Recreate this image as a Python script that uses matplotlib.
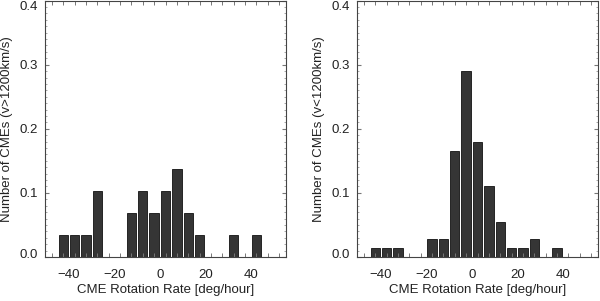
import matplotlib
matplotlib.use("Agg")
import matplotlib.pyplot as plt
from matplotlib.ticker import MultipleLocator, FixedLocator
from matplotlib.transforms import ScaledTranslation

plt.rcParams['font.family'] = ['Liberation Sans', 'DejaVu Sans']

bin_centers = [-47.5, -42.5, -37.5, -32.5, -27.5, -22.5, -17.5, -12.5, -7.5, -2.5,
               2.5, 7.5, 12.5, 17.5, 22.5, 27.5, 32.5, 37.5, 42.5, 47.5, 52.5]
fast_frac = [0, 0.034, 0.034, 0.034, 0.103, 0, 0, 0.069, 0.103, 0.069,
             0.103, 0.138, 0.069, 0.034, 0, 0, 0.034, 0, 0.034, 0, 0]
slow_frac = [0, 0.014, 0.014, 0.014, 0, 0, 0.028, 0.028, 0.166, 0.290,
             0.179, 0.111, 0.055, 0.014, 0.014, 0.028, 0, 0.014, 0, 0, 0]
xticks = [-40, -20, 0, 20, 40]
yticks = [0.0, 0.1, 0.2, 0.3, 0.4]
xlabel = "CME Rotation Rate [deg/hour]"
ylabels = ["Number of CMEs (v>1200km/s)", "Number of CMEs (v<1200km/s)"]

fig = plt.figure(figsize=(6.0, 3.01), dpi=100)
W, H = 600, 301
ax_boxes = [(45, 286), (357, 598)]
top_px, bot_px = 0, 257

for (l, r), vals, ylab in zip(ax_boxes, [fast_frac, slow_frac], ylabels):
    ax = fig.add_axes([l / W, 1 - bot_px / H, (r - l) / W, (bot_px - top_px) / H - 0.002])
    ax.bar(bin_centers, vals, width=4.1, color='#353535', edgecolor='#111111',
           linewidth=0.6, zorder=1)
    ax.set_xlim(-50.5, 55.5)
    ax.set_ylim(0, 0.4)
    ax.set_xticks(xticks)
    ax.xaxis.set_minor_locator(FixedLocator(bin_centers))
    ax.set_yticks(yticks)
    ax.set_yticklabels([f"{v:.1f}" for v in yticks])
    ax.yaxis.set_minor_locator(MultipleLocator(0.01))
    ax.tick_params(axis='x', which='major', length=0, labelsize=9.5, pad=9, colors='#222222')
    ax.tick_params(axis='x', which='minor', length=3, direction='in', top=True, bottom=True,
                   color='#777777', width=0.7)
    ax.tick_params(axis='y', which='major', length=3, direction='in', labelsize=9.5,
                   left=True, right=True, color='#777777', pad=5, labelcolor='#222222')
    ax.tick_params(axis='y', which='minor', length=1.5, direction='in', left=True, right=True,
                   color='#999999', width=0.6)
    labs = ax.get_yticklabels()
    labs[-1].set_va('top')
    labs[0].set_transform(labs[0].get_transform() + ScaledTranslation(0, 3 / 100, fig.dpi_scale_trans))
    for s in ax.spines.values():
        s.set_color('#444444')
        s.set_linewidth(0.8)
    ax.set_xlabel(xlabel, fontsize=9.5, labelpad=2, color='#222222')
    ax.set_ylabel(ylab, fontsize=9.5, labelpad=5, color='#222222')

fig.savefig("out.png", dpi=100)
